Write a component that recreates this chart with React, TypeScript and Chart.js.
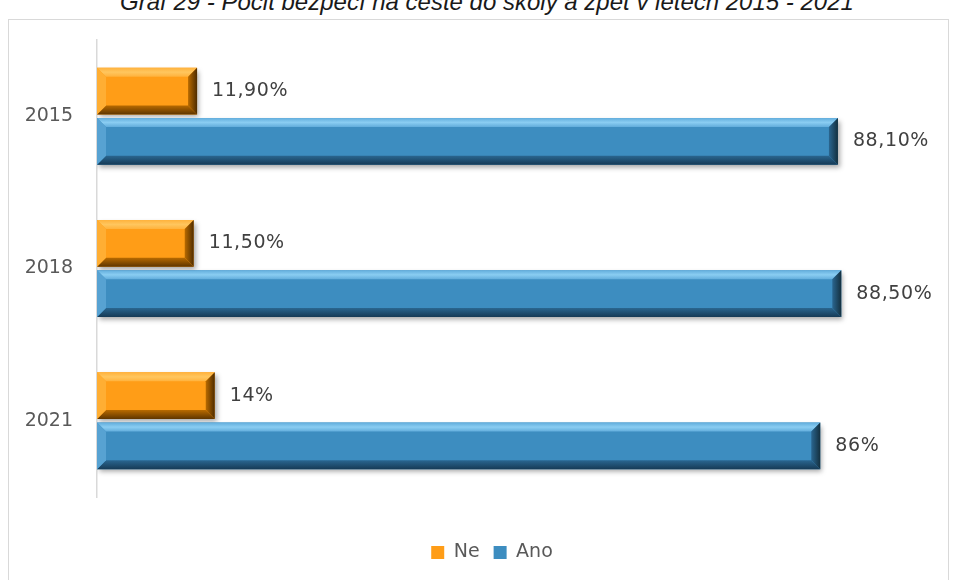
import React, { useEffect, useRef } from "react";
import { Chart, registerables } from "chart.js";

Chart.register(...registerables);

const categories = ["2015", "2018", "2021"];
const seriesNames = ["Ne", "Ano"];
const neValues = [11.9, 11.5, 14];
const anoValues = [88.1, 88.5, 86];
const neLabels = ["11,90%", "11,50%", "14%"];
const anoLabels = ["88,10%", "88,50%", "86%"];
const titleText = "Graf 29 - Pocit bezpečí na cestě do školy a zpět v letech 2015 - 2021";

const palettes = [
  { face: "#FF9D17", light: "#FFC65E", lightEdge: "#FFB23C", leftEdge: "#FFAE33", dark: "#B86A00", darker: "#5E3500", end: "#4E2C00" },
  { face: "#3D8DC0", light: "#8ACDF2", lightEdge: "#62ADDC", leftEdge: "#57A2D2", dark: "#2A6690", darker: "#163A55", end: "#14303F" },
];

const valueLabels = [neLabels, anoLabels];

function poly(ctx: CanvasRenderingContext2D, pts: number[][], fill: any) {
  ctx.beginPath();
  ctx.moveTo(pts[0][0], pts[0][1]);
  for (let i = 1; i < pts.length; i++) ctx.lineTo(pts[i][0], pts[i][1]);
  ctx.closePath();
  ctx.fillStyle = fill;
  ctx.fill();
}

const bevelPlugin = {
  id: "bevel",
  beforeDatasetsDraw(chart: any) {
    const ctx = chart.ctx;
    ctx.save();
    ctx.shadowColor = "rgba(0,0,0,0.35)";
    ctx.shadowBlur = 5;
    ctx.shadowOffsetX = 2;
    ctx.shadowOffsetY = 3;
  },
  afterDatasetsDraw(chart: any) {
    const ctx: CanvasRenderingContext2D = chart.ctx;
    ctx.restore();
    chart.data.datasets.forEach((_ds: any, di: number) => {
      const meta = chart.getDatasetMeta(di);
      const pal = palettes[di];
      meta.data.forEach((el: any, i: number) => {
        const { x, y, base, height } = el.getProps(["x", "y", "base", "height"], true);
        const l = Math.min(base, x);
        const r = Math.max(base, x);
        const t = y - height / 2;
        const b = y + height / 2;
        const bw = 9;
        ctx.save();
        let g = ctx.createLinearGradient(0, t, 0, t + bw);
        g.addColorStop(0, pal.lightEdge);
        g.addColorStop(0.5, pal.light);
        g.addColorStop(1, pal.lightEdge);
        poly(ctx, [[l, t], [r, t], [r - bw, t + bw], [l + bw, t + bw]], g);
        g = ctx.createLinearGradient(0, b - bw, 0, b);
        g.addColorStop(0, pal.dark);
        g.addColorStop(1, pal.darker);
        poly(ctx, [[l, b], [r, b], [r - bw, b - bw], [l + bw, b - bw]], g);
        poly(ctx, [[l, t], [l + bw, t + bw], [l + bw, b - bw], [l, b]], pal.leftEdge);
        g = ctx.createLinearGradient(r - bw, 0, r, 0);
        g.addColorStop(0, pal.dark);
        g.addColorStop(1, pal.end);
        poly(ctx, [[r, t], [r - bw, t + bw], [r - bw, b - bw], [r, b]], g);
        ctx.restore();

        ctx.save();
        ctx.font = "19px 'DejaVu Sans'";
        (ctx as any).letterSpacing = "0.6px";
        ctx.fillStyle = "#404040";
        ctx.textAlign = "left";
        ctx.textBaseline = "middle";
        ctx.fillText(valueLabels[di][i], r + 15, y);
        ctx.restore();
      });
    });
  },
};

export default function App() {
  const canvasRef = useRef<HTMLCanvasElement | null>(null);

  useEffect(() => {
    if (!canvasRef.current) return;
    const chart = new Chart(canvasRef.current, {
      type: "bar",
      data: {
        labels: categories,
        datasets: [
          {
            label: seriesNames[0],
            data: neValues,
            backgroundColor: palettes[0].face,
            borderWidth: 0,
            categoryPercentage: 0.66,
            barPercentage: 0.93,
          },
          {
            label: seriesNames[1],
            data: anoValues,
            backgroundColor: palettes[1].face,
            borderWidth: 0,
            categoryPercentage: 0.66,
            barPercentage: 0.93,
          },
        ],
      },
      options: {
        indexAxis: "y",
        animation: false,
        responsive: true,
        maintainAspectRatio: false,
        layout: { padding: { top: 20, right: 0, bottom: 8, left: 0 } },
        scales: {
          x: {
            min: 0,
            max: 100,
            display: true,
            grid: { display: false, drawTicks: false },
            border: { display: false },
            ticks: { display: false },
            afterFit: (scale: any) => {
              scale.height = 32;
            },
          },
          y: {
            grid: { display: false, drawTicks: false },
            border: { display: true, color: "#D9D9D9", width: 1.5 },
            ticks: {
              color: "#595959",
              padding: 24,
              font: { family: "'DejaVu Sans'", size: 19 },
            },
            afterFit: (scale: any) => {
              scale.width = 89;
              scale.paddingTop = 0;
              scale.paddingBottom = 0;
            },
          },
          yRight: {
            type: "linear",
            position: "right",
            display: true,
            grid: { display: false, drawTicks: false },
            border: { display: false },
            ticks: { display: false },
            afterFit: (scale: any) => {
              scale.width = 38;
              scale.paddingTop = 0;
              scale.paddingBottom = 0;
            },
          },
        },
        plugins: {
          legend: {
            display: true,
            position: "bottom",
            labels: {
              boxWidth: 13,
              boxHeight: 13,
              padding: 14,
              color: "#595959",
              font: { family: "'DejaVu Sans'", size: 19 },
            },
          },
          tooltip: { enabled: false },
          title: { display: false },
        },
      },
      plugins: [bevelPlugin],
    } as any);
    return () => chart.destroy();
  }, []);

  return (
    <div style={{ position: "fixed", left: 0, top: 0, width: 956, height: 580, overflow: "hidden", background: "#fff" }}>
      <div
        style={{
          position: "absolute",
          left: 8,
          top: -12,
          width: 940,
          paddingLeft: 18,
          boxSizing: "border-box",
          textAlign: "center",
          fontFamily: "'Liberation Sans', Arial, sans-serif",
          fontStyle: "italic",
          fontSize: 24,
          lineHeight: "28px",
          color: "#1a1a1a",
          whiteSpace: "nowrap",
        }}
      >
        {titleText}
      </div>
      <div
        style={{
          position: "absolute",
          left: 8,
          top: 19,
          width: 941,
          height: 620,
          border: "1.5px solid #D9D9D9",
          boxSizing: "border-box",
        }}
      />
      <div style={{ position: "absolute", left: 8, top: 20, width: 968, height: 560 }}>
        <canvas ref={canvasRef} />
      </div>
    </div>
  );
}
